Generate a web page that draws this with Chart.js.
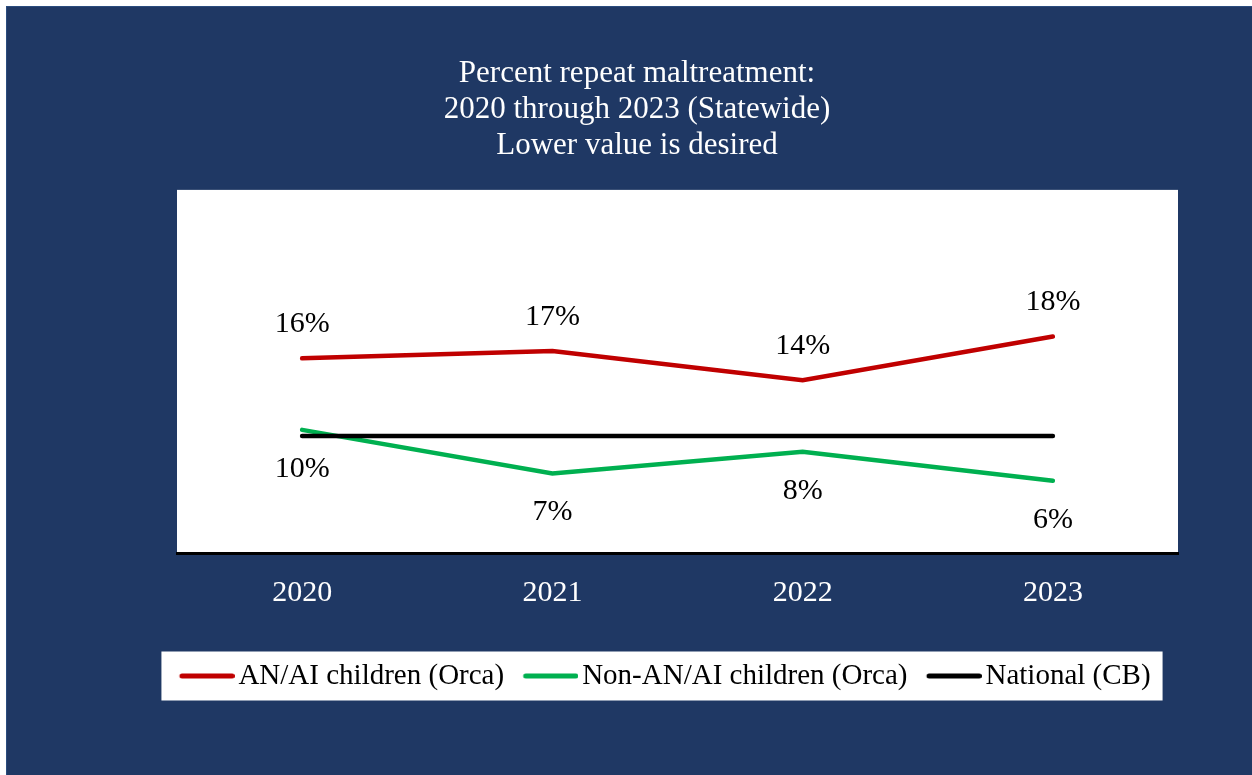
<!DOCTYPE html>
<html>
<head>
<meta charset="utf-8">
<script src="https://cdn.jsdelivr.net/npm/chart.js@4/dist/chart.umd.min.js"></script>
<style>
  html, body { margin: 0; padding: 0; background: #ffffff; }
  canvas { display: block; }
</style>
</head>
<body>
<canvas id="chart" width="1252" height="775"></canvas>
<script>
// Chart data
const years = ['2020', '2021', '2022', '2023'];
const anaiValues = [16.1, 16.7, 14.3, 17.9];
const nonAnaiValues = [10.2, 6.6, 8.4, 6.0];
const nationalValues = [9.7, 9.7, 9.7, 9.7];
const titleLines = ['Percent repeat maltreatment:', '2020 through 2023 (Statewide)', 'Lower value is desired'];

const NAVY = '#1F3864';
const SERIF = "'Liberation Serif', 'Times New Roman', serif";

// Legend marker: a short line placed close to its text
function legendLine(color) {
    let c = document.createElement('canvas');
    c.width = 66;
    c.height = 8;
    let ctx = c.getContext('2d');
    ctx.strokeStyle = color;
    ctx.lineWidth = 5;
    ctx.lineCap = 'round';
    ctx.beginPath();
    ctx.moveTo(13.25, 4);
    ctx.lineTo(63.5, 4);
    ctx.stroke();
    return c;
}

// Paints the navy frame, the white plot area and the white legend box
const backgroundPlugin = {
    id: 'backgrounds',
    afterLayout(chart) {
        // title sits a little left of the plot centre
        chart.titleBlock.left -= 28;
        chart.titleBlock.right -= 28;
    },
    beforeDraw(chart) {
        const ctx = chart.ctx;
        const area = chart.chartArea;
        ctx.save();
        ctx.fillStyle = '#ffffff';
        ctx.fillRect(0, 0, chart.width, chart.height);
        ctx.fillStyle = NAVY;
        ctx.fillRect(6, 6, chart.width - 6, chart.height - 6);
        ctx.strokeStyle = '#2B4C7E';
        ctx.lineWidth = 1;
        ctx.strokeRect(6.5, 6.5, chart.width - 6, chart.height - 6);
        ctx.fillStyle = '#ffffff';
        ctx.fillRect(area.left, area.top, area.right - area.left, area.bottom - area.top);
        // legend box round the legend items
        let boxes = chart.legend.legendHitBoxes;
        if (boxes && boxes.length) {
            let l = Math.min(...boxes.map(b => b.left));
            let r = Math.max(...boxes.map(b => b.left + b.width));
            let t = Math.min(...boxes.map(b => b.top));
            let h = boxes[0].height;
            ctx.fillRect(l - 18, t + h / 2 - 24.5, r - l + 30, 49);
        }
        ctx.restore();
    }
};

// Draws the rounded value labels next to the points
const valueLabelPlugin = {
    id: 'valueLabels',
    afterDatasetsDraw(chart) {
        const ctx = chart.ctx;
        ctx.save();
        ctx.font = '30px ' + SERIF;
        ctx.fillStyle = '#000000';
        ctx.textAlign = 'center';
        ctx.textBaseline = 'middle';
        chart.data.datasets.forEach((ds, i) => {
            if (ds.labelOffset === undefined)
                return;
            let meta = chart.getDatasetMeta(i);
            meta.data.forEach((pt, j) => {
                ctx.fillText(Math.round(ds.data[j]) + '%', pt.x, pt.y + ds.labelOffset);
            });
        });
        ctx.restore();
    }
};

new Chart(document.getElementById('chart'), {
    type: 'line',
    data: {
        labels: years,
        datasets: [
            {
                label: 'AN/AI children (Orca)',
                data: anaiValues,
                borderColor: '#C00000',
                backgroundColor: '#C00000',
                borderWidth: 4.5,
                borderCapStyle: 'round',
                pointRadius: 0,
                pointStyle: legendLine('#C00000'),
                labelOffset: -34,
                order: 1
            },
            {
                label: 'Non-AN/AI children (Orca)',
                data: nonAnaiValues,
                borderColor: '#00B050',
                backgroundColor: '#00B050',
                borderWidth: 4.5,
                borderCapStyle: 'round',
                pointRadius: 0,
                pointStyle: legendLine('#00B050'),
                labelOffset: 39,
                order: 2
            },
            {
                label: 'National (CB)',
                data: nationalValues,
                borderColor: '#000000',
                backgroundColor: '#000000',
                borderWidth: 4.5,
                borderCapStyle: 'round',
                pointRadius: 0,
                pointStyle: legendLine('#000000'),
                order: 0
            }
        ]
    },
    options: {
        responsive: false,
        animation: false,
        layout: {
            padding: { left: 152, right: 74, top: 0, bottom: 74.5 }
        },
        plugins: {
            title: {
                display: true,
                text: titleLines,
                color: '#ffffff',
                font: { family: SERIF, size: 31, weight: 'normal', lineHeight: 1.16 },
                padding: { top: 56, bottom: 26 }
            },
            legend: {
                position: 'bottom',
                labels: {
                    color: '#000000',
                    font: { family: SERIF, size: 29 },
                    usePointStyle: true,
                    pointStyleWidth: 44.5,
                    padding: 19,
                    sort: (a, b) => a.datasetIndex - b.datasetIndex
                }
            },
            tooltip: { enabled: false }
        },
        scales: {
            x: {
                offset: true,
                grid: { display: false, drawTicks: false },
                border: { display: true, color: '#000000', width: 3 },
                ticks: {
                    color: '#ffffff',
                    font: { family: SERIF, size: 30 },
                    padding: 22
                },
                afterFit: (scale) => { scale.height += 9; }
            },
            y: {
                min: 0,
                max: 30,
                grid: { display: false, drawTicks: false },
                border: { display: false },
                ticks: { display: false },
                afterFit: (scale) => { scale.width = 25; }
            }
        }
    },
    plugins: [backgroundPlugin, valueLabelPlugin]
});
</script>
</body>
</html>
